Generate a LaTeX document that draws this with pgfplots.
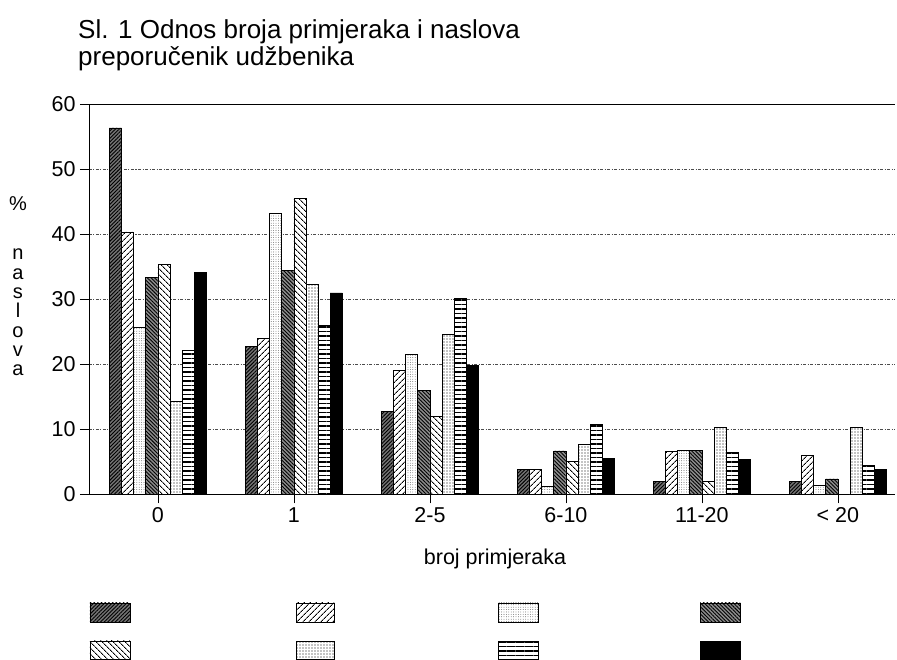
\documentclass[border=0pt]{standalone}
\usepackage{pgfplots}
\pgfplotsset{compat=1.18}
\usepackage{fontspec}
\setmainfont{Liberation Sans}
\usetikzlibrary{patterns.meta}

\pgfplotstableread{
x s1 s2 s3 s4 s5 s6 s7 s8
0 56.4 40.4 25.7 33.4 35.4 14.4 22.1 34.1
1 22.8 24.0 43.2 34.5 45.5 32.4 26.0 31.0
2 12.8 19.1 21.5 16.0 12.0 24.6 30.2 19.8
3 3.8  3.9  1.3  6.7  5.1  7.7  10.8 5.6
4 2.0  6.6  6.8  6.8  2.0  10.3 6.5  5.4
5 2.0  6.0  1.4  2.4  0.0  10.4 4.5  3.9
}\datatable

\tikzset{
  p1/.style={draw=black, line width=0.7pt, fill=black!55, postaction={pattern={Lines[angle=45,distance=2.6pt,line width=0.9pt]}}},
  p2/.style={draw=black, line width=0.7pt, fill=white, postaction={pattern={Lines[angle=45,distance=4pt,line width=0.9pt]}}},
  p3/.style={draw=black, line width=0.7pt, fill=white, postaction={pattern={Dots[distance=2.4pt,radius=0.4pt]}, pattern color=black!75}},
  p4/.style={draw=black, line width=0.7pt, fill=black!45, postaction={pattern={Lines[angle=-45,distance=2.6pt,line width=0.9pt]}}},
  p5/.style={draw=black, line width=0.7pt, fill=white, postaction={pattern={Lines[angle=-45,distance=4pt,line width=0.9pt]}}},
  p6/.style={draw=black, line width=0.7pt, fill=white, postaction={pattern={Dots[distance=3pt,radius=0.65pt]}}},
  p7/.style={draw=black, line width=0.7pt, fill=white, postaction={pattern={Lines[angle=0,distance=4.5pt,line width=1.1pt]}}},
  p8/.style={draw=black, line width=0.7pt, fill=black},
}

\begin{document}
\begin{tikzpicture}[x=1pt,y=1pt]
\path[use as bounding box] (-89,-165.5) rectangle (808,494.5);
\begin{axis}[
  at={(0pt,0pt)}, anchor=south west,
  scale only axis, width=806pt, height=390pt,
  xmin=-0.507, xmax=5.42, ymin=0, ymax=60,
  axis x line*=bottom, axis y line*=left,
  axis line style={line width=0.8pt,-},
  ybar=0pt, bar width=12.1pt,
  xtick={0,1,2,3,4,5},
  xticklabels={0,1,2-5,6-10,11-20,{< 20}},
  ytick={0,10,20,30,40,50,60},
  tick align=outside,
  major tick length=9pt,
  tick style={black, line width=0.6pt},
  ymajorgrids,
  grid style={black!70, line width=0.5pt, dash pattern=on 3pt off 1.5pt on 1pt off 1.5pt},
  /pgf/number format/assume math mode=true,
  ticklabel style={font=\fontsize{21.5}{21.5}\selectfont},
  xticklabel style={anchor=base, yshift=-19pt},
  yticklabel style={anchor=east, xshift=-1pt},
]
\addplot[p1] table[x=x,y=s1] {\datatable};
\addplot[p2] table[x=x,y=s2] {\datatable};
\addplot[p3] table[x=x,y=s3] {\datatable};
\addplot[p4] table[x=x,y=s4] {\datatable};
\addplot[p5] table[x=x,y=s5] {\datatable};
\addplot[p6] table[x=x,y=s6] {\datatable};
\addplot[p7] table[x=x,y=s7] {\datatable};
\addplot[p8] table[x=x,y=s8] {\datatable};
\draw[black, line width=0.8pt] (rel axis cs:0,1) -- (rel axis cs:1,1);
\end{axis}
% title
\node[anchor=base west, inner sep=0pt, font=\fontsize{26}{26}\selectfont] at (-11,456) {Sl. 1 Odnos broja primjeraka i naslova};
\node[anchor=base west, inner sep=0pt, font=\fontsize{26}{26}\selectfont] at (-11,428.5) {preporučenik udžbenika};
% axis titles
\node[anchor=base, inner sep=0pt, font=\fontsize{21.5}{21.5}\selectfont] at (406,-70) {broj primjeraka};
\node[anchor=base, inner sep=0pt, font=\fontsize{20}{20}\selectfont] at (-71,283.5) {\%};
\foreach \l [count=\i] in {n,a,s,l,o,v,a}
  \node[anchor=base, inner sep=0pt, font=\fontsize{20}{20}\selectfont] at (-71,{234.5-(\i-1)*19.33}) {\l};
% legend keys
\draw[p1] (1,-127.5) rectangle (41,-108.5);
\draw[p2] (207,-127.5) rectangle (245,-108.5);
\draw[p3] (409,-127.5) rectangle (449,-108.5);
\draw[p4] (611,-127.5) rectangle (651,-108.5);
\draw[p5] (1,-164.5) rectangle (41,-146.5);
\draw[p6] (207,-164.5) rectangle (245,-146.5);
\draw[p7] (409,-164.5) rectangle (449,-146.5);
\draw[p8] (611,-164.5) rectangle (651,-146.5);
\end{tikzpicture}
\end{document}
